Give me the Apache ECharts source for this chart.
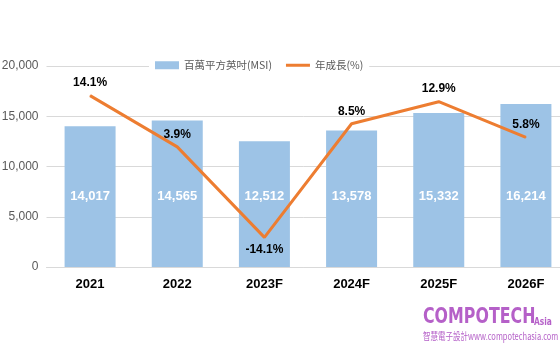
<!DOCTYPE html>
<html><head><meta charset="utf-8">
<script src="https://cdn.jsdelivr.net/npm/echarts@6/dist/echarts.min.js"></script>
<style>html,body{margin:0;padding:0;background:#fff}#c{width:560px;height:350px}</style>
</head><body><div id="c"></div>
<script>
const categories = ['2021','2022','2023F','2024F','2025F','2026F'];
const msiValues = [14017,14565,12512,13578,15332,16214];
const growthValues = [14.1,3.9,-14.1,8.5,12.9,5.8];
const yTicks = [0,5000,10000,15000,20000];

const lineLabel = {show:true, color:'#000', fontWeight:'bold', fontSize:12, distance:6,
  formatter:p=>p.value.toFixed(1)+'%'};

const chart = echarts.init(document.getElementById('c'), null, {renderer:'canvas'});
chart.setOption({
  animation:false,
  backgroundColor:'#fff',
  textStyle:{fontFamily:'Liberation Sans, Arial, sans-serif'},
  legend:{
    top:58, left:149,
    backgroundColor:'#fff',
    padding:[2,6,2,6],
    itemGap:14,
    itemWidth:24, itemHeight:8,
    textStyle:{color:'#595959', fontSize:10.5, fontFamily:'"Noto Sans CJK TC", Liberation Sans, sans-serif'},
    data:[{name:'百萬平方英吋(MSI)', icon:'rect'},
          {name:'年成長(%)', icon:'path://M0,0 L24,0 L24,3 L0,3 Z'}]
  },
  grid:{left:46.5, top:66, width:523, height:201, containLabel:false, outerBoundsMode:'none'},
  xAxis:{
    type:'category', data:categories,
    axisLine:{lineStyle:{color:'#d9d9d9'}},
    axisTick:{show:false},
    axisLabel:{color:'#000', fontWeight:'bold', fontSize:13, margin:11}
  },
  yAxis:[{
    type:'value', min:yTicks[0], max:yTicks[yTicks.length-1], interval:5000,
    axisLine:{show:false}, axisTick:{show:false},
    splitLine:{lineStyle:{color:'#d9d9d9'}},
    axisLabel:{color:'#595959', fontSize:12, margin:8,
      formatter:v=>v.toLocaleString('en-US')}
  },{
    type:'value', min:-20, max:20, show:false, splitLine:{show:false}
  }],
  series:[{
    name:'百萬平方英吋(MSI)', type:'bar', data:msiValues, barWidth:51,
    itemStyle:{color:'#9dc3e6'},
    label:{show:true, position:'insideBottom', distance:64, color:'#fff', fontWeight:'bold', fontSize:13,
      formatter:p=>p.value.toLocaleString('en-US')}
  },{
    name:'年成長(%)', type:'line', yAxisIndex:1,
    data:growthValues.map(v=>({value:v, label:Object.assign({}, lineLabel, {position: v<0?'bottom':'top'})})),
    symbol:'circle', symbolSize:1, showSymbol:true,
    lineStyle:{color:'#ed7d31', width:3}, itemStyle:{color:'#ed7d31'},
    label:lineLabel
  }],
  graphic:[{
    type:'text', x:423, y:306, scaleX:0.72,
    style:{text:'COMPOTECH', fill:'#b560c8', font:'bold 22px "DejaVu Sans", sans-serif'}
  },{
    type:'text', x:534, y:317, scaleX:0.75,
    style:{text:'Asia', fill:'#b560c8', font:'bold 10px "DejaVu Sans", sans-serif'}
  },{
    type:'text', x:423, y:331, scaleX:0.75,
    style:{text:'智慧電子設計www.compotechasia.com', fill:'#b560c8', font:'10px "Noto Sans CJK TC", sans-serif'}
  }]
});
</script></body></html>
